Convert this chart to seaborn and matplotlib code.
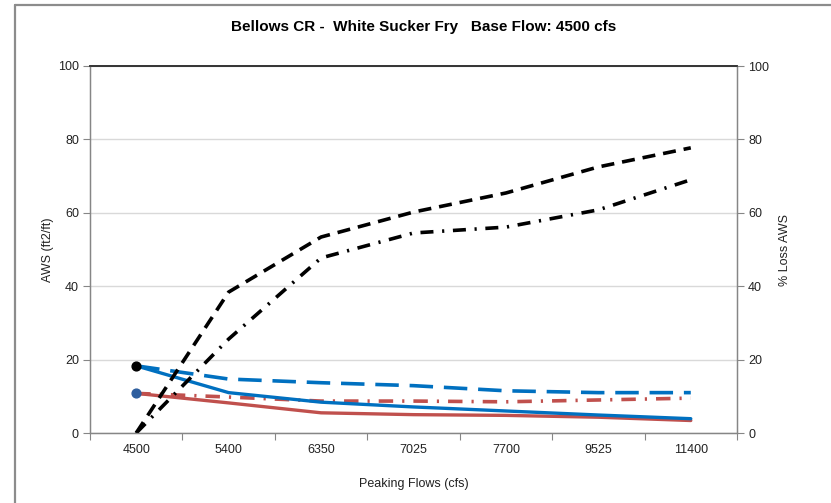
import numpy as np
import pandas as pd
import seaborn as sns
import matplotlib.pyplot as plt
from matplotlib.lines import Line2D

# values
flows = ["4500", "5400", "6350", "7025", "7700", "9525", "11400"]
aws_blue_solid = [18.3, 11.0, 8.4, 7.1, 6.0, 4.9, 3.9]
aws_blue_dash = [18.3, 14.7, 13.7, 12.9, 11.5, 11.0, 11.0]
aws_red_solid = [10.8, 8.2, 5.5, 5.0, 4.8, 4.3, 3.4]
aws_red_dashdot = [10.8, 9.8, 8.7, 8.7, 8.5, 9.0, 9.5]
loss_dash = [0.0, 38.4, 53.4, 60.2, 65.4, 72.5, 77.7]
loss_dashdot = [0.0, 25.6, 47.7, 54.5, 56.1, 60.8, 69.0]

sns.set_theme(style="white")
plt.rcParams['font.family'] = ['Liberation Sans', 'DejaVu Sans']

pos = np.arange(len(flows))
df = pd.DataFrame({
    'pos': pos,
    'blue_solid': aws_blue_solid,
    'blue_dash': aws_blue_dash,
    'red_solid': aws_red_solid,
    'red_dashdot': aws_red_dashdot,
    'loss_dash': loss_dash,
    'loss_dashdot': loss_dashdot,
})

fig = plt.figure(figsize=(8.31, 5.03), dpi=100)
ax = fig.add_axes([90 / 831, 70 / 503, 647 / 831, 367 / 503])
ax2 = ax.twinx()

blue = '#0070C0'
red = '#C0504D'

sns.lineplot(data=df, x='pos', y='blue_dash', ax=ax, color=blue, lw=2.6,
             linestyle=(0, (6.5, 3.0)))
sns.lineplot(data=df, x='pos', y='red_dashdot', ax=ax, color=red, lw=2.6,
             linestyle=(0, (4.0, 2.5, 0.6, 2.5)))
sns.lineplot(data=df, x='pos', y='red_solid', ax=ax, color=red, lw=2.4)
sns.lineplot(data=df, x='pos', y='blue_solid', ax=ax, color=blue, lw=2.4)

sns.lineplot(data=df, x='pos', y='loss_dash', ax=ax2, color='black', lw=2.6,
             linestyle=(0, (3.6, 2.2)))
sns.lineplot(data=df, x='pos', y='loss_dashdot', ax=ax2, color='black', lw=2.6,
             linestyle=(0, (3.6, 2.4, 0.6, 2.4)))

# start-point markers
ax.scatter([pos[0]], [aws_blue_solid[0]], s=40, color='black', zorder=5)
ax.scatter([pos[0]], [aws_red_solid[0]], s=40, color='#2E5E9E', zorder=5)

for a in (ax, ax2):
    a.set_xlim(-0.5, len(flows) - 0.5)
    a.set_ylim(0, 100)
    a.set_yticks(np.arange(0, 101, 20))
    a.tick_params(axis='y', length=5, width=0.8, color='#868686',
                  labelsize=9, labelcolor='#222222', pad=3)
    for s in a.spines.values():
        s.set_color('#868686')
        s.set_linewidth(0.9)
    a.spines['top'].set_color('#333333')
    a.spines['top'].set_linewidth(1.2)

ax.yaxis.grid(True, color='#D9D9D9', lw=1.0)
ax.set_axisbelow(True)
ax2.grid(False)

ax.set_xticks(pos)
ax.set_xticklabels(flows)
ax.set_xticks(np.arange(-0.5, len(flows), 1.0), minor=True)
ax.tick_params(axis='x', which='major', length=0, labelsize=9,
               labelcolor='#222222', pad=8)
ax.tick_params(axis='x', which='minor', length=5, width=0.8,
               color='#868686', bottom=True)

ax.set_xlabel('Peaking Flows (cfs)', fontsize=9, color='#222222', labelpad=16)
ax.set_ylabel('AWS (ft2/ft)', fontsize=9, color='#222222', labelpad=3)
ax2.set_ylabel('% Loss AWS', fontsize=9, color='#222222', labelpad=7,
               rotation=90)

fig.suptitle('Bellows CR -  White Sucker Fry   Base Flow: 4500 cfs',
             x=424 / 831, y=1 - 27 / 503, va='center',
             fontsize=11, fontweight='bold', color='black')

# outer chart border
fig.add_artist(Line2D([14.5 / 831, 1.0], [1 - 4.5 / 503] * 2,
                      color='#8C8C8C', lw=1.6, transform=fig.transFigure))
fig.add_artist(Line2D([14.5 / 831] * 2, [0.0, 1 - 4.5 / 503],
                      color='#8C8C8C', lw=1.6, transform=fig.transFigure))

fig.savefig('out.png', dpi=100)
